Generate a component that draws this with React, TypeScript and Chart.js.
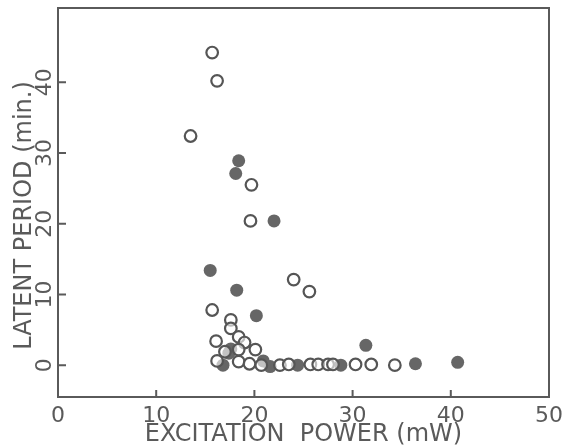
import React, { useEffect, useRef } from "react";
import { Chart, registerables } from "chart.js";

Chart.register(...registerables);

// Open circles
const openX = [15.7, 16.2, 13.5, 19.7, 19.6, 24.0, 25.6, 15.7, 17.6, 17.6, 18.4, 16.1, 19.0, 20.1, 18.4, 17.0, 16.2, 18.4, 19.5, 20.7, 22.6, 23.5, 25.7, 26.5, 27.5, 28.0, 30.3, 31.9, 34.3];
const openY = [44.2, 40.2, 32.4, 25.5, 20.4, 12.1, 10.4, 7.8, 6.4, 5.2, 4.0, 3.4, 3.2, 2.2, 2.2, 1.9, 0.6, 0.5, 0.2, 0.0, 0.0, 0.1, 0.1, 0.1, 0.1, 0.1, 0.1, 0.1, 0.0];
// Filled circles
const filledX = [18.4, 18.1, 22.0, 15.5, 18.2, 20.2, 31.35, 17.6, 17.4, 16.8, 20.9, 21.6, 24.4, 28.8, 36.4, 40.7];
const filledY = [28.9, 27.1, 20.4, 13.4, 10.6, 7.0, 2.8, 2.3, 1.7, 0.0, 0.6, -0.2, 0.0, 0.0, 0.2, 0.4];

const xTicks = [0, 10, 20, 30, 40, 50];
const yTicks = [0, 10, 20, 30, 40];
const xTitle = "EXCITATION  POWER (mW)";
const yTitle = "LATENT PERIOD (min.)";

const INK = "#5a5a5a";
const FONT = "DejaVu Sans";

const framePlugin = {
  id: "frame",
  afterDraw(chart: any) {
    const { ctx, chartArea } = chart;
    const { left, right, top, bottom } = chartArea;
    const xs = chart.scales.x;
    const ys = chart.scales.y;
    ctx.save();
    ctx.strokeStyle = "#5a5a5a";
    ctx.lineWidth = 2;
    ctx.strokeRect(left, top, right - left, bottom - top);
    ctx.beginPath();
    xTicks.forEach((v) => {
      if (v === xs.min || v === xs.max) return;
      const px = xs.getPixelForValue(v);
      ctx.moveTo(px, bottom);
      ctx.lineTo(px, bottom - 7);
    });
    yTicks.forEach((v) => {
      const py = ys.getPixelForValue(v);
      ctx.moveTo(left, py);
      ctx.lineTo(left + 8, py);
    });
    ctx.stroke();
    ctx.fillStyle = INK;
    ctx.textAlign = "center";
    ctx.textBaseline = "middle";
    ctx.font = `22px "${FONT}"`;
    yTicks.forEach((v) => {
      const py = ys.getPixelForValue(v);
      ctx.save();
      ctx.translate(left - 13, py);
      ctx.rotate(-Math.PI / 2);
      ctx.fillText(String(v), 0, 0);
      ctx.restore();
    });
    ctx.font = `24px "${FONT}"`;
    ctx.save();
    ctx.translate(left - 33, (top + bottom) / 2 + 13);
    ctx.rotate(-Math.PI / 2);
    ctx.fillText(yTitle, 0, 0);
    ctx.restore();
    ctx.restore();
  },
};

export default function App() {
  const ref = useRef<HTMLCanvasElement>(null);
  useEffect(() => {
    document.body.style.margin = "0";
    const canvas = ref.current!;
    const chart = new Chart(canvas, {
      type: "scatter",
      data: {
        datasets: [
          {
            label: "open",
            data: openX.map((x, i) => ({ x, y: openY[i] })),
            pointRadius: 5.8,
            pointBorderWidth: 2.2,
            pointBackgroundColor: "rgba(255,255,255,0.6)",
            pointBorderColor: "#555555",
          },
          {
            label: "filled",
            data: filledX.map((x, i) => ({ x, y: filledY[i] })),
            pointRadius: 6.5,
            pointBorderWidth: 0,
            pointBackgroundColor: "#666666",
            pointBorderColor: "#666666",
          },
        ],
      },
      options: {
        responsive: false,
        animation: false,
        devicePixelRatio: 1,
        layout: { padding: { left: 0, right: 29, top: 4, bottom: 0 } },
        plugins: { legend: { display: false }, tooltip: { enabled: false } },
        scales: {
          x: {
            type: "linear",
            min: 0,
            max: 50,
            grid: { display: false, drawTicks: false },
            border: { display: false },
            ticks: {
              stepSize: 10,
              padding: 6,
              color: INK,
              font: { family: FONT, size: 22 },
              callback: (v: any) => (xTicks.includes(Number(v)) ? String(v) : ""),
            },
            title: {
              display: true,
              text: xTitle,
              color: INK,
              font: { family: FONT, size: 24 },
              padding: { top: 3, bottom: -3 },
            },
            afterFit: (s: any) => {
              s.height = 49;
            },
          },
          y: {
            type: "linear",
            min: -4.5,
            max: 50.5,
            grid: { display: false, drawTicks: false },
            border: { display: false },
            ticks: { display: false },
            afterFit: (s: any) => {
              s.width = 58;
            },
          },
        },
      },
      plugins: [framePlugin],
    });
    return () => chart.destroy();
  }, []);
  return <canvas ref={ref} width={578} height={446} style={{ display: "block" }} />;
}
